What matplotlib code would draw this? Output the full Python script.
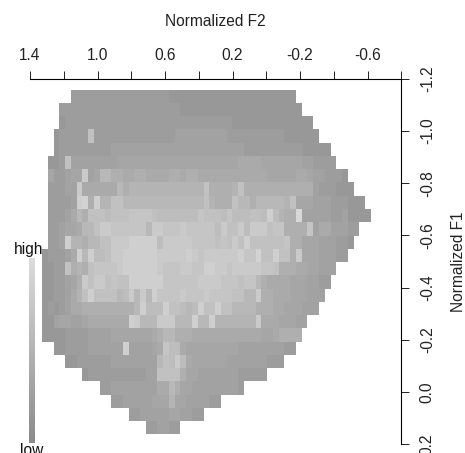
import numpy as np
import matplotlib
matplotlib.use("Agg")
import matplotlib.pyplot as plt
from matplotlib.colors import LinearSegmentedColormap

plt.rcParams['font.family'] = ['Liberation Sans', 'DejaVu Sans']

W, H = 465, 453
FS = 11.2

# Levels, one hex digit per cell ('.' = empty), grouped by ten columns.
rows = [
    ".....22222 2222222222 2211111111 1111111111 1111...... .......",
    "...2222222 2222222222 2222111111 1111111111 11111..... .......",
    "...1222222 2222222222 2222222222 2221111111 1111111... .......",
    "..122222a2 2222222222 2223333333 3322222222 22111111.. .......",
    "..12222222 2233333333 3333333333 3333322222 2222211111 .......",
    ".112a33333 3334444444 4444444444 4444555544 4444433222 2......",
    ".422344c34 8866556655 5566566555 5555555554 4444554332 221....",
    ".22233c555 5558677777 77777777a6 6667a66666 6666666322 2111...",
    ".22223de6d 77aa888888 88888888a7 666a886888 887a444333 222111.",
    ".2223586aa a9aaabbbba 9999999baa a9b999aa9d 9766f33333 2231111",
    ".22344588a ccbbbbbb8c cbbbcbbbbb 9caac9ccca bb6666b355 33322..",
    ".223d77688 aacccddddd 9cccccbbbb abacadaaaa aab6644433 3221...",
    "122235d8d9 9accdddddd cccccdcbcc ccccdbbeaa daa6c44433 322....",
    "1122a676ab bbbcdddddd cbbbccbbdd ccbcccccbb a666554433 3......",
    "1122346cac cabaaddddd dbbbbbbccc cbbbabb865 5554443322 .......",
    "1122357ada aaa89c8c8d bbbbcbbbcb bbbaa88c66 555444333. .......",
    "1212355666 6666668d99 9daa989daa daa8888666 55444333.. .......",
    "1134433455 55555dc888 ccc888d88d 7777777c55 544433.... .......",
    "1111222233 3344444445 6886665555 5555555544 56666..... .......",
    "..11222233 3333d33334 5b99544444 4444333333 3322...... .......",
    "....112222 2233333333 8a9c954444 4433333332 22........ .......",
    ".......122 2222222233 aaaa644333 333322222. .......... .......",
    ".......... 2233333333 5586443333 33332..... .......... .......",
    ".......... ..22333334 4474433332 2......... .......... .......",
    ".......... .....22333 33443322.. .......... .......... .......",
    ".......... ........22 3322...... .......... .......... .......",
]

f2_range = (1.329, -0.620)
f1_range = (-1.159, 0.163)
x_ticks = [1.4, 1.2, 1.0, 0.8, 0.6, 0.4, 0.2, 0.0, -0.2, -0.4, -0.6, -0.8]
x_labels = ["1.4", "", "1.0", "", "0.6", "", "0.2", "", "-0.2", "", "-0.6", ""]
y_ticks = [-1.2, -1.0, -0.8, -0.6, -0.4, -0.2, 0.0, 0.2]
y_labels = ["-1.2", "-1.0", "-0.8", "-0.6", "-0.4", "-0.2", "0.0", "0.2"]

grid = np.array([[np.nan if c == '.' else int(c, 16) for c in r.replace(' ', '')] for r in rows])
cmap = LinearSegmentedColormap.from_list('g', [(139/255,)*3, (220/255,)*3])
cmap.set_bad((1, 1, 1, 0))


def box(l, t, r, b):
    return [l/W, 1-b/H, (r-l)/W, (b-t)/H]


fig = plt.figure(figsize=(W/100, H/100), dpi=100)
ax = fig.add_axes(box(30, 79, 401.3, 444))
xe = np.linspace(f2_range[0], f2_range[1], grid.shape[1]+1)
ye = np.linspace(f1_range[0], f1_range[1], grid.shape[0]+1)
ax.pcolormesh(xe, ye, np.ma.masked_invalid(grid), cmap=cmap, vmin=-2, vmax=16, linewidth=0)
ax.set_xlim(1.4, -0.8)
ax.set_ylim(0.2, -1.2)
for s in ('left', 'bottom'):
    ax.spines[s].set_visible(False)
for s in ('top', 'right'):
    ax.spines[s].set_linewidth(0.8)
ax.xaxis.tick_top()
ax.yaxis.tick_right()
ax.set_xticks(x_ticks, x_labels)
ax.set_yticks(y_ticks, y_labels)
ax.tick_params(axis='x', length=5.8, width=0.7, pad=6, labelsize=FS, colors='#222222')
ax.tick_params(axis='y', length=5.8, width=0.7, pad=7.5, labelsize=FS, colors='#222222')
for t in ax.get_yticklabels():
    t.set_rotation(90)
    t.set_va('center')

fig.text(215.6/W, 1-21/H, "Normalized F2", ha='center', va='center', fontsize=FS, color='#222222')
fig.text(458.5/W, 1-261.5/H, "Normalized F1", ha='center', va='center', rotation=90, fontsize=FS, color='#222222')

cax = fig.add_axes(box(29, 258, 34.5, 443))
cax.imshow(np.linspace(16, -2, 64)[:, None], aspect='auto', cmap=cmap, vmin=-2, vmax=16)
cax.axis('off')
fig.text(29/W, 1-254/H, "high", ha='center', va='baseline', fontsize=FS, color='#111111')
fig.text(31.5/W, 1-455/H, "low", ha='center', va='baseline', fontsize=FS, color='#111111')

fig.savefig('out.png', dpi=100)
